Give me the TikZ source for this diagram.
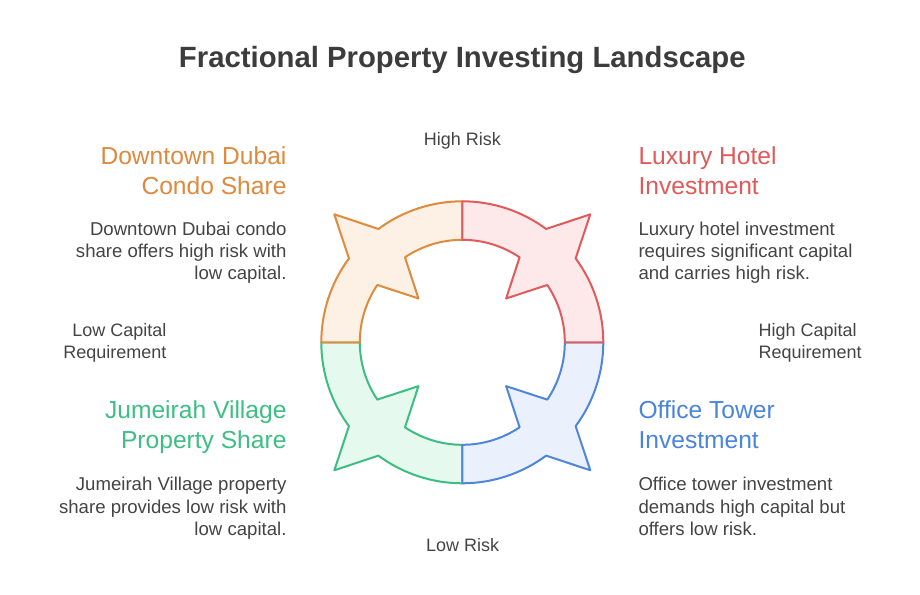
\documentclass[tikz,border=0pt]{standalone}
\usepackage{fontspec}
\setmainfont{Liberation Sans}
\definecolor{txt}{HTML}{444444}
\definecolor{ttl}{HTML}{3C3C3C}
\definecolor{orS}{HTML}{E08A3C}
\definecolor{orF}{HTML}{FDF1E6}
\definecolor{orT}{HTML}{DD8A3E}
\definecolor{rdS}{HTML}{E05B5B}
\definecolor{rdF}{HTML}{FDE9E9}
\definecolor{rdT}{HTML}{E05A5A}
\definecolor{gnS}{HTML}{3DBD82}
\definecolor{gnF}{HTML}{E6F9EE}
\definecolor{gnT}{HTML}{3DBF84}
\definecolor{blS}{HTML}{4F86DB}
\definecolor{blF}{HTML}{EAF1FD}
\definecolor{blT}{HTML}{4A84DB}
\newcommand\quadSeg[3]{%
 \draw[seg, draw=#2, fill=#3]
  ([shift={(#1:141pt)}]C) arc[start angle=#1, end angle=#1+36.5, radius=141pt]
  -- ([shift={(#1+45:181pt)}]C) -- ([shift={(#1+53.5:141pt)}]C)
  arc[start angle=#1+53.5, end angle=#1+90, radius=141pt]
  -- ([shift={(#1+90:102.5pt)}]C)
  arc[start angle=#1+90, end angle=#1+56, radius=102.5pt]
  -- ([shift={(#1+45:62pt)}]C) -- ([shift={(#1+34:102.5pt)}]C)
  arc[start angle=#1+34, end angle=#1, radius=102.5pt] -- cycle;}
\begin{document}
\begin{tikzpicture}[x=1pt,y=1pt,
  lbl/.style={inner sep=0pt, text=txt, font=\fontsize{18}{22.5}\selectfont},
  desc/.style={inner sep=0pt, text=txt, font=\fontsize{18.6}{22}\selectfont},
  head/.style={inner sep=0pt, font=\fontsize{24.6}{29.5}\selectfont},
  seg/.style={line width=2pt, line join=round}]
\useasboundingbox (0,0) rectangle (920,594);
\fill[white] (0,0) rectangle (920,594);
\coordinate (C) at (462.3,251.7);
\quadSeg{180}{gnS}{gnF}
\quadSeg{270}{blS}{blF}
\quadSeg{90}{orS}{orF}
\quadSeg{0}{rdS}{rdF}

\node[inner sep=0pt, text=ttl, font=\fontsize{29.3}{34}\selectfont\bfseries, anchor=base] (title) at (462.3,526.3) {Fractional Property Investing Landscape};

\node[lbl, anchor=base] (hr) at (462.3,448) {High Risk};
\node[lbl, anchor=base] (lr) at (462.7,43) {Low Risk};
\node[lbl, anchor=base east, align=right] (lc) at (166.7,235) {Low Capital\\Requirement};
\node[lbl, anchor=base west, align=left] (hc) at (758.3,235) {High Capital\\Requirement};

\node[head, text=orT, anchor=base east, align=right] (h1) at (286.7,399.5) {Downtown Dubai\\Condo Share};
\node[desc, anchor=base east, align=right] (d1) at (286.7,314) {Downtown Dubai condo\\share offers high risk with\\low capital.};

\node[head, text=rdT, anchor=base west, align=left] (h2) at (638.3,399.5) {Luxury Hotel\\Investment};
\node[desc, anchor=base west, align=left] (d2) at (638.3,314) {Luxury hotel investment\\requires significant capital\\and carries high risk.};

\node[head, text=gnT, anchor=base east, align=right] (h3) at (286.7,145.7) {Jumeirah Village\\Property Share};
\node[desc, anchor=base east, align=right] (d3) at (286.7,59) {Jumeirah Village property\\share provides low risk with\\low capital.};

\node[head, text=blT, anchor=base west, align=left] (h4) at (638.3,145.7) {Office Tower\\Investment};
\node[desc, anchor=base west, align=left] (d4) at (638.3,59) {Office tower investment\\demands high capital but\\offers low risk.};
\end{tikzpicture}
\end{document}
